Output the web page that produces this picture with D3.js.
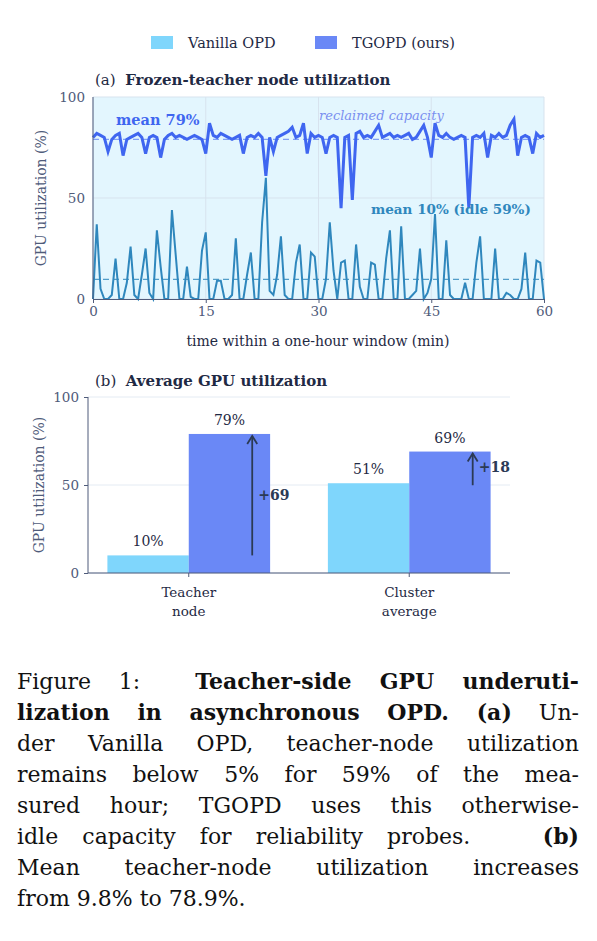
<!DOCTYPE html>
<html><head><meta charset="utf-8">
<script src="https://cdn.jsdelivr.net/npm/d3@7"></script>
<style>
body{margin:0;background:#fff;width:597px;height:941px;overflow:hidden;font-family:"DejaVu Serif",serif;}
#cap{position:absolute;left:17px;top:666px;width:562px;font-size:22px;line-height:31px;color:#111;}
#cap div{text-align:justify;text-align-last:justify;white-space:nowrap;}
#cap div.last{text-align-last:left;}
</style></head><body>
<svg id="chart" width="597" height="660" style="position:absolute;left:0;top:0"></svg>
<div id="cap">
<div>Figure 1: &nbsp;<b>Teacher-side GPU underuti-</b></div>
<div><b>lization in asynchronous OPD. (a)</b> Un-</div>
<div>der Vanilla OPD, teacher-node utilization</div>
<div>remains below 5% for 59% of the mea-</div>
<div>sured hour; TGOPD uses this otherwise-</div>
<div>idle capacity for reliability probes. &nbsp;&nbsp;<b>(b)</b></div>
<div>Mean teacher-node utilization increases</div>
<div class="last">from 9.8% to 78.9%.</div>
</div>
<script>
const minutes = d3.range(0, 60.5, 0.5);
const vanilla = [0,37,5,0,0,2,20,0,0,8,26,2,0,12,25,3,0,34,16,0,0,44,22,0,0,16,1,0,0,24,33,0,0,9,9,0,0,2,30,0,0,12,23,0,0,38,60,4,2,12,31,2,0,0,18,27,0,0,23,21,0,0,10,38,14,0,18,19,0,0,27,6,0,0,18,17,0,0,20,34,0,0,36,0,0,2,4,25,0,3,10,42,0,0,29,2,0,0,0,8,0,0,18,31,0,0,0,25,0,0,3,2,0,0,5,23,0,0,19,18,0];
const tgopd = [80,82,81,80,73,79,81,82,71,79,80,81,82,80,72,80,81,80,70,79,81,82,80,81,80,79,80,81,80,79,72,87,81,80,82,81,80,79,80,81,72,80,81,80,82,80,61,80,73,80,81,82,83,85,80,81,87,72,82,80,81,80,72,80,81,80,45,80,81,49,82,83,80,81,80,83,86,80,81,82,80,81,80,81,82,79,80,83,86,80,70,87,81,80,82,80,79,80,81,80,45,80,81,80,82,70,81,80,82,80,81,86,89,71,80,81,80,72,82,80,81];
const barCats = ["Teacher\nnode","Cluster\naverage"];
const barVanilla = [10,51];
const barTgopd = [79,69];
const barLabelsV = ["10%","51%"];
const barLabelsT = ["79%","69%"];
const gains = ["+69","+18"];
const xTicksA = [0,15,30,45,60];
const yTicks = [0,50,100];

const cV="#7fd6fc", cT="#6a88f6", lineT="#3f66f0", lineV="#2f87bd", axisC="#4f5b7a", txt="#1f2a44";
const svg=d3.select("#chart");
const F='"DejaVu Serif",serif';

// legend
const lg=svg.append("g").attr("font-family",F).attr("font-size",14.5).attr("fill",txt);
lg.append("rect").attr("x",151).attr("y",36).attr("width",22).attr("height",13).attr("fill",cV);
lg.append("text").attr("x",188).attr("y",48).text("Vanilla OPD");
lg.append("rect").attr("x",315).attr("y",36).attr("width",22).attr("height",13).attr("fill",cT);
lg.append("text").attr("x",352).attr("y",48).text("TGOPD (ours)");

// panel a
const xa=d3.scaleLinear().domain([0,60]).range([93,544]);
const ya=d3.scaleLinear().domain([0,100]).range([299,97]);
svg.append("text").attr("x",95).attr("y",85).attr("font-family",F).attr("font-size",15).attr("fill",txt)
 .html('(a)&#160;&#160;<tspan font-weight="bold">Frozen-teacher node utilization</tspan>');
const ga=svg.append("g");
ga.append("rect").attr("x",93).attr("y",97).attr("width",451).attr("height",202).attr("fill","#e3f6fe");
ga.append("g").selectAll("line").data(xTicksA).join("line").attr("x1",d=>xa(d)).attr("x2",d=>xa(d)).attr("y1",97).attr("y2",299).attr("stroke","#d7e3ee").attr("stroke-width",1);
ga.append("g").selectAll("line").data(yTicks).join("line").attr("x1",93).attr("x2",544).attr("y1",d=>ya(d)).attr("y2",d=>ya(d)).attr("stroke","#d7e3ee");
const d0=d3.mean(vanilla), d1=d3.mean(tgopd);
ga.append("line").attr("x1",93).attr("x2",544).attr("y1",ya(d0)).attr("y2",ya(d0)).attr("stroke",lineV).attr("stroke-dasharray","6,4").attr("stroke-width",1.2).attr("opacity",0.8);
ga.append("line").attr("x1",93).attr("x2",544).attr("y1",ya(d1)).attr("y2",ya(d1)).attr("stroke",lineT).attr("stroke-dasharray","6,4").attr("stroke-width",1.2).attr("opacity",0.6);
const ln=arr=>d3.line().x((d,i)=>xa(minutes[i])).y(d=>ya(d))(arr);
ga.append("path").attr("d",ln(vanilla)).attr("fill","none").attr("stroke",lineV).attr("stroke-width",2);
ga.append("path").attr("d",ln(tgopd)).attr("fill","none").attr("stroke",lineT).attr("stroke-width",3);
const axA=svg.append("g").attr("transform","translate(0,299)").call(d3.axisBottom(xa).tickValues(xTicksA).tickSize(4));
const ayA=svg.append("g").attr("transform","translate(93,0)").call(d3.axisLeft(ya).tickValues(yTicks).tickSize(0).tickPadding(8));
[axA,ayA].forEach(a=>{a.selectAll("path").attr("stroke",axisC);a.selectAll("line").attr("stroke",axisC);a.selectAll("text").attr("font-family",F).attr("font-size",13.5).attr("fill",axisC);});
ayA.select("path").remove();
svg.append("line").attr("x1",93).attr("x2",93).attr("y1",97).attr("y2",299).attr("stroke",axisC);
svg.append("text").attr("x",318).attr("y",346).attr("text-anchor","middle").attr("font-family",F).attr("font-size",14).attr("fill",txt).text("time within a one-hour window (min)");
svg.append("text").attr("transform","translate(46,198) rotate(-90)").attr("text-anchor","middle").attr("font-family",F).attr("font-size",14).attr("fill",axisC).text("GPU utilization (%)");
svg.append("text").attr("x",116).attr("y",125).attr("font-family",F).attr("font-size",14.5).attr("font-weight","bold").attr("fill",lineT).text("mean 79%");
svg.append("text").attr("x",319).attr("y",120).attr("font-family",F).attr("font-size",13).attr("font-style","italic").attr("fill","#7a8ff0").text("reclaimed capacity");
svg.append("text").attr("x",371).attr("y",214).attr("font-family",F).attr("font-size",13.5).attr("font-weight","bold").attr("fill",lineV).text("mean 10%\u00a0(idle 59%)");

// panel b
svg.append("text").attr("x",95).attr("y",386).attr("font-family",F).attr("font-size",15).attr("fill",txt)
 .html('(b)&#160;&#160;<tspan font-weight="bold">Average GPU utilization</tspan>');
const yb=d3.scaleLinear().domain([0,100]).range([573,397]);
const xb=d3.scaleBand().domain(barCats).range([88,510]).paddingInner(0.262).paddingOuter(0.088);
const xs=d3.scaleBand().domain(["v","t"]).range([0,xb.bandwidth()]);
const gb=svg.append("g");
gb.selectAll("line.g").data(yTicks).join("line").attr("x1",88).attr("x2",510).attr("y1",d=>yb(d)).attr("y2",d=>yb(d)).attr("stroke","#e4ebf3");
barCats.forEach((c,i)=>{
 const x0=xb(c);
 gb.append("rect").attr("x",x0).attr("y",yb(barVanilla[i])).attr("width",xs.bandwidth()).attr("height",yb(0)-yb(barVanilla[i])).attr("fill",cV);
 gb.append("rect").attr("x",x0+xs("t")).attr("y",yb(barTgopd[i])).attr("width",xs.bandwidth()).attr("height",yb(0)-yb(barTgopd[i])).attr("fill",cT);
 gb.append("text").attr("x",x0+xs.bandwidth()/2).attr("y",yb(barVanilla[i])-9).attr("text-anchor","middle").attr("font-family",F).attr("font-size",14).attr("fill",txt).text(barLabelsV[i]);
 gb.append("text").attr("x",x0+xs("t")+xs.bandwidth()/2).attr("y",yb(barTgopd[i])-9).attr("text-anchor","middle").attr("font-family",F).attr("font-size",14).attr("fill",txt).text(barLabelsT[i]);
 const ax=x0+xs("t")+xs.bandwidth()*0.78;
 const yStart=i===0?yb(barVanilla[i]):yb(barVanilla[i])+2;
 gb.append("line").attr("x1",ax).attr("x2",ax).attr("y1",yStart).attr("y2",yb(barTgopd[i])+2).attr("stroke","#2b3a55").attr("stroke-width",1.8);
 gb.append("path").attr("d",`M${ax-5},${yb(barTgopd[i])+10}L${ax},${yb(barTgopd[i])+2}L${ax+5},${yb(barTgopd[i])+10}`).attr("fill","none").attr("stroke","#2b3a55").attr("stroke-width",1.8);
 gb.append("text").attr("x",ax+6).attr("y",(yb(barVanilla[i])+yb(barTgopd[i]))/2+5).attr("font-family",F).attr("font-size",14).attr("font-weight","bold").attr("fill","#2b3a55").text(gains[i]);
});
const axB=svg.append("g").attr("transform","translate(0,573)").call(d3.axisBottom(xb).tickSize(4).tickFormat(""));
const ayB=svg.append("g").attr("transform","translate(88,0)").call(d3.axisLeft(yb).tickValues(yTicks).tickSize(4).tickPadding(5));
[axB,ayB].forEach(a=>{a.selectAll("path").attr("stroke",axisC);a.selectAll("line").attr("stroke",axisC);a.selectAll("text").attr("font-family",F).attr("font-size",13.5).attr("fill",axisC);});
ayB.select("path").attr("d","M0,397V573");
axB.select("path").attr("d","M88,0H510");
barCats.forEach(c=>{
 const t=svg.append("text").attr("text-anchor","middle").attr("font-family",F).attr("font-size",13.5).attr("fill",txt);
 c.split("\n").forEach((s,j)=>t.append("tspan").attr("x",xb(c)+xb.bandwidth()/2).attr("y",597+j*19).text(s));
});
svg.append("text").attr("transform","translate(44,485) rotate(-90)").attr("text-anchor","middle").attr("font-family",F).attr("font-size",14).attr("fill",axisC).text("GPU utilization (%)");
</script></body></html>
